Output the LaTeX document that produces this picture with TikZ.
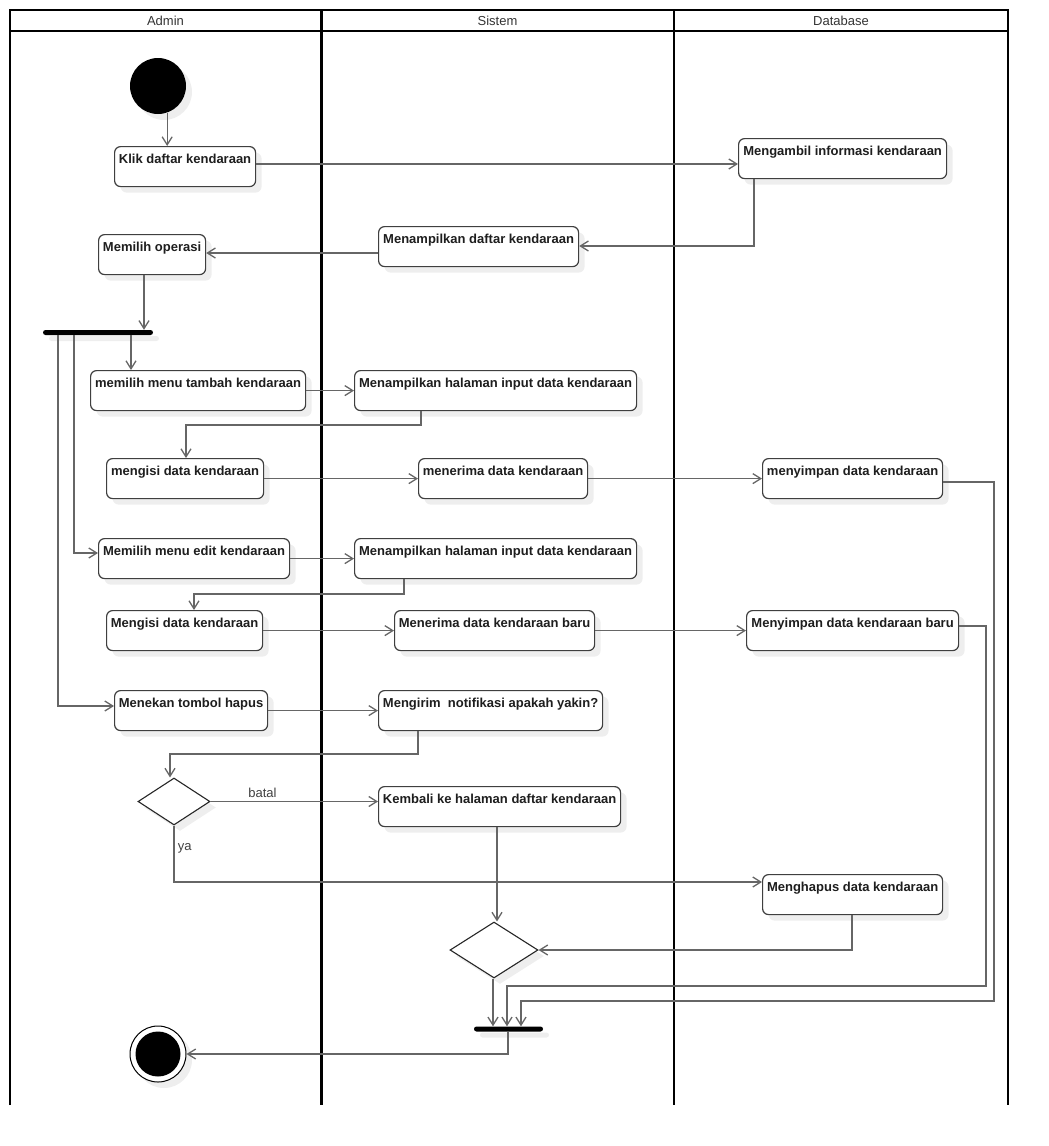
\documentclass[tikz,border=0pt]{standalone}
\usepackage{fontspec}
\setmainfont{Liberation Sans}
\usetikzlibrary{arrows.meta,shapes.geometric,shadows}
\definecolor{boxc}{HTML}{3F3F3F}
\definecolor{linec}{HTML}{666666}
\definecolor{shadc}{HTML}{EEEEEE}
\definecolor{txtc}{HTML}{1E1E1E}
\begin{document}
\begin{tikzpicture}[x=1pt,y=-1pt,
  shad/.style={drop shadow={shadow xshift=6pt,shadow yshift=-6pt,fill=shadc,opacity=1}},
  act/.style={shad, draw=boxc, fill=white, line width=1.2pt, rounded corners=6pt, anchor=north west,
     minimum width=#1, inner xsep=0pt, inner ysep=0pt, text height=17pt, text depth=23pt,
     font=\fontsize{13}{15}\selectfont\bfseries, text=txtc},
  flow/.style={draw=linec, line width=1.3pt, -{Straight Barb[length=8pt,width=10pt]}},
  lane/.style={draw=black, line width=2pt},
  lanetxt/.style={font=\fontsize{13}{15}\selectfont, text=black!80},
  lbl/.style={font=\fontsize{13}{15}\selectfont, text=black!75},
  bar/.style={shad, fill=black, rectangle, rounded corners=2.5pt, minimum height=5pt, inner sep=0pt, minimum width=#1},
  dec/.style={shad, diamond, draw=black!85, fill=white, line width=1.1pt, inner sep=0pt},
]
\useasboundingbox (0,0) rectangle (1049,1146);
% swimlanes
\draw[lane] (10,1105) -- (10,10) -- (1008,10) -- (1008,1105);
\draw[lane] (10,31) -- (1008,31);
\draw[lane, line width=3pt] (321,10) -- (321,1105);
\draw[lane] (674,10) -- (674,1105);
\node[lanetxt] (hadmin) at (165.5,20.5) {Admin};
\node[lanetxt] (hsistem) at (497.5,20.5) {Sistem};
\node[lanetxt] (hdb) at (841,20.5) {Database};

% nodes
\node[shad, circle, fill=black, minimum size=56pt, inner sep=0pt] (start) at (158,86) {};
\node[act=141pt] (klik) at (114,146) {Klik daftar kendaraan};
\node[act=208pt] (ambil) at (738,138) {Mengambil informasi kendaraan};
\node[act=200pt] (tampil) at (378,226) {Menampilkan daftar kendaraan};
\node[act=107pt] (pilih) at (98,234) {Memilih operasi};
\node[bar=110pt] (fork) at (98,332.5) {};
\node[act=215pt] (tambah) at (90,370) {memilih menu tambah kendaraan};
\node[act=282pt] (input1) at (354,370) {Menampilkan halaman input data kendaraan};
\node[act=157pt] (isi1) at (106,458) {mengisi data kendaraan};
\node[act=169pt] (terima1) at (418,458) {menerima data kendaraan};
\node[act=180pt] (simpan1) at (762,458) {menyimpan data kendaraan};
\node[act=191pt] (edit) at (98,538) {Memilih menu edit kendaraan};
\node[act=282pt] (input2) at (354,538) {Menampilkan halaman input data kendaraan};
\node[act=156pt] (isi2) at (106,610) {Mengisi data kendaraan};
\node[act=200pt] (terima2) at (394,610) {Menerima data kendaraan baru};
\node[act=212pt] (simpan2) at (746,610) {Menyimpan data kendaraan baru};
\node[act=153pt] (hapus) at (114,690) {Menekan tombol hapus};
\node[act=224pt] (kirim) at (378,690) {Mengirim\ \ notifikasi apakah yakin?};
\node[dec, minimum width=72pt, minimum height=47pt] (dec1) at (174,801.5) {};
\node[act=242pt] (kembali) at (378,786) {Kembali ke halaman daftar kendaraan};
\node[act=180pt] (hapusdb) at (762,874) {Menghapus data kendaraan};
\node[dec, minimum width=88pt, minimum height=56pt] (dec2) at (494,950) {};
\node[bar=69pt] (join) at (508.5,1029) {};
\node[shad, circle, draw=black, fill=white, line width=1pt, minimum size=56pt, inner sep=0pt,
  path picture={\fill[black] (path picture bounding box.center) circle[radius=22.5pt];}] (endn) at (158,1054) {};

% connectors
\draw[flow] (start.-71) -- (start.-71 |- klik.north);
\draw[flow] (klik.east |- 0,164) -- (ambil.west |- 0,164);
\draw[flow] (ambil.south -| 754,0) |- (tampil.east |- 0,246);
\draw[flow] (tampil.west |- 0,253) -- (pilih.east |- 0,253);
\draw[flow] (pilih.south -| 144,0) -- (fork.north -| 144,0);
\draw[flow] (fork.south -| 131,0) -- (tambah.north -| 131,0);
\draw[flow] (fork.south -| 74,0) |- (edit.west |- 0,553);
\draw[flow] (fork.south -| 58,0) |- (hapus.west |- 0,706);
\draw[flow] (tambah.east) -- (input1.west);
\draw[flow] (input1.south -| 421,0) |- (186,425) -- (isi1.north -| 186,0);
\draw[flow] (isi1.east) -- (terima1.west);
\draw[flow] (terima1.east) -- (simpan1.west);
\draw[flow] (simpan1.east |- 0,482) -| (994,1001) -| (join.north -| 521,0);
\draw[flow] (edit.east) -- (input2.west);
\draw[flow] (input2.south -| 404,0) |- (194,594) -- (isi2.north -| 194,0);
\draw[flow] (isi2.east) -- (terima2.west);
\draw[flow] (terima2.east) -- (simpan2.west);
\draw[flow] (simpan2.east |- 0,626) -| (986,986) -| (join.north -| 507,0);
\draw[flow] (hapus.east) -- (kirim.west);
\draw[flow] (kirim.south -| 418,0) |- (170,754) -- (dec1.north -| 170,0);
\draw[flow] (dec1.east) -- node[lbl, pos=0.31, above] {batal} (kembali.west |- dec1.east);
\draw[flow] (dec1.south) |- node[lbl, pos=0.2, right] {ya} (hapusdb.west |- 0,882);
\draw[flow] (kembali.south -| 497,0) -- (dec2.north -| 497,0);
\draw[flow] (hapusdb.south -| 852,0) |- (dec2.east);
\draw[flow] (dec2.south -| 493,0) -- (join.north -| 493,0);
\draw[flow] (join.south -| 508,0) |- (endn.east);
\end{tikzpicture}
\end{document}
